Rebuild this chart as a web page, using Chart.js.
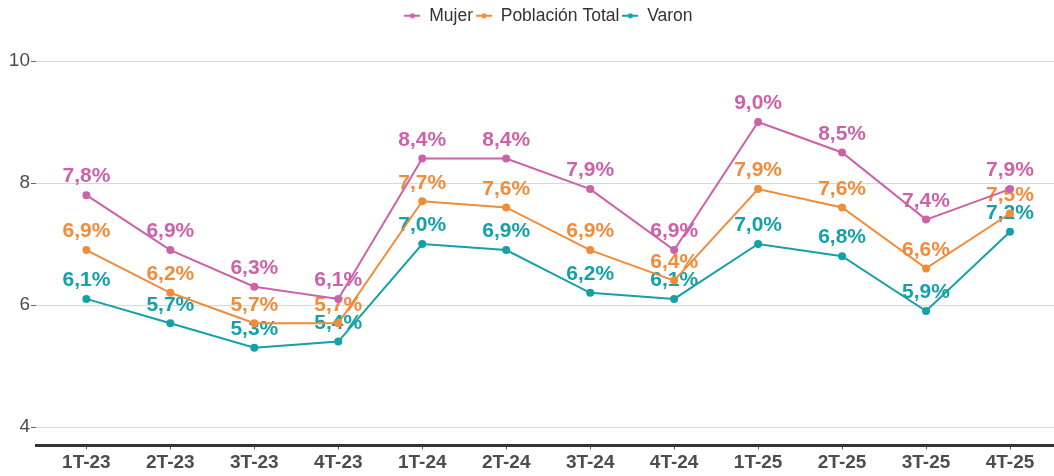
<!DOCTYPE html>
<html><head><meta charset="utf-8">
<script src="https://cdn.jsdelivr.net/npm/chart.js@4/dist/chart.umd.min.js"></script>
<style>html,body{margin:0;padding:0;background:#fff;overflow:hidden}#wrap{width:1054px;height:476px;overflow:hidden}</style>
</head><body><div id="wrap"><canvas id="c" width="1059" height="476"></canvas></div>
<script>
const categories = ["1T-23","2T-23","3T-23","4T-23","1T-24","2T-24","3T-24","4T-24","1T-25","2T-25","3T-25","4T-25"];
const mujer = [7.8,6.9,6.3,6.1,8.4,8.4,7.9,6.9,9.0,8.5,7.4,7.9];
const total = [6.9,6.2,5.7,5.7,7.7,7.6,6.9,6.4,7.9,7.6,6.6,7.5];
const varon = [6.1,5.7,5.3,5.4,7.0,6.9,6.2,6.1,7.0,6.8,5.9,7.2];
const yTicks = [4,6,8,10];
const seriesNames = ["Mujer","Población Total","Varon"];
const colors = ["#CC62A8","#F08C3A","#16A0A8"];

function pts(arr){ return arr.map((v,i)=>({x:i,y:v})); }
function markerImg(col){
  const c=document.createElement('canvas'); c.width=16; c.height=10;
  const g=c.getContext('2d'); g.strokeStyle=col; g.lineWidth=2;
  g.beginPath(); g.moveTo(0,5); g.lineTo(16,5); g.stroke();
  g.fillStyle=col; g.beginPath(); g.arc(8,5,2.6,0,Math.PI*2); g.fill();
  return c;
}
const markers = colors.map(markerImg);
const FONT = "'Liberation Sans', Arial, sans-serif";

const labelPlugin = {
  id:'valLabels',
  beforeDatasetsDraw(chart){
    const ctx=chart.ctx; ctx.save();
    ctx.font = "bold 21px " + FONT;
    ctx.textAlign='center'; ctx.textBaseline='middle';
    chart.data.datasets.forEach((ds,di)=>{
      const meta=chart.getDatasetMeta(di);
      meta.data.forEach((p,i)=>{
        const v=ds.data[i].y;
        ctx.fillStyle=colors[di];
        ctx.fillText(v.toFixed(1).replace('.',',')+'%', p.x, p.y-18.5);
      });
    });
    ctx.restore();
  }
};
const legendFit = {
  id:'legendFit',
  beforeInit(chart){
    const lg=chart.legend;
    const orig=lg.fit;
    lg.fit=function(){ orig.bind(lg)(); this.height=42.7; };
    const od=lg.draw;
    lg.draw=function(){ const c=chart.ctx; c.save(); c.translate(19,4); od.apply(lg,arguments); c.restore(); };
  }
};

new Chart(document.getElementById('c'),{
  type:'line',
  data:{ datasets:[
    {label:seriesNames[0],data:pts(mujer),borderColor:colors[0],backgroundColor:colors[0],borderWidth:2,pointRadius:3,pointHoverRadius:3,tension:0},
    {label:seriesNames[1],data:pts(total),borderColor:colors[1],backgroundColor:colors[1],borderWidth:2,pointRadius:3,pointHoverRadius:3,tension:0},
    {label:seriesNames[2],data:pts(varon),borderColor:colors[2],backgroundColor:colors[2],borderWidth:2,pointRadius:3,pointHoverRadius:3,tension:0}
  ]},
  options:{
    responsive:false, animation:false, events:[],
    layout:{padding:{left:0,right:0,top:0,bottom:0}},
    plugins:{
      tooltip:{enabled:false},
      legend:{position:'top',align:'center',
        labels:{usePointStyle:true,boxWidth:16,boxHeight:10,padding:3,color:'#333',font:{family:FONT,size:17.5},
          generateLabels(chart){
            return chart.data.datasets.map((ds,i)=>({text:ds.label,pointStyle:markers[i],fillStyle:colors[i],strokeStyle:colors[i],lineWidth:0,datasetIndex:i,fontColor:'#333'}));
          }}
      }
    },
    scales:{
      x:{type:'linear',min:-0.6,max:11.524,
        afterBuildTicks(s){ s.ticks=categories.map((c,i)=>({value:i})); },
        afterFit(s){ s.height=30.7; },
        grid:{drawOnChartArea:false,tickLength:4,color:'#555',tickWidth:1},
        border:{display:true,color:'#333',width:3},
        ticks:{padding:2,color:'#4d4d4d',maxRotation:0,autoSkip:false,font:{family:FONT,size:19,weight:'bold'},
          callback:(v)=>categories[v]}
      },
      y:{type:'linear',min:3.7,max:10.3,
        afterBuildTicks(s){ s.ticks=yTicks.map(v=>({value:v})); },
        afterFit(s){ s.width=36; },
        grid:{color:'#d9d9d9',lineWidth:1,tickLength:5,tickColor:'#666'},
        border:{display:false},
        ticks:{padding:1,color:'#4d4d4d',font:{family:FONT,size:19},callback:(v)=>String(v)}
      }
    }
  },
  plugins:[legendFit,labelPlugin]
});
</script></body></html>
